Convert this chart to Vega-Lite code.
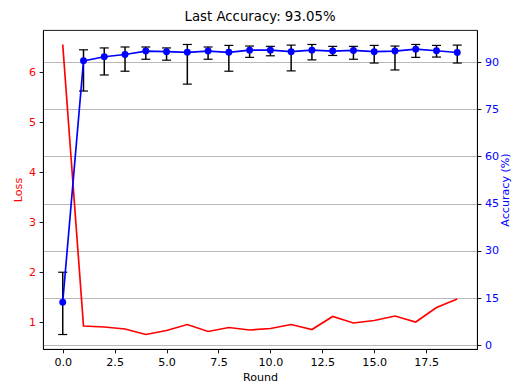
{
  "$schema": "https://vega.github.io/schema/vega-lite/v6.json",
  "width": 434,
  "height": 319,
  "autosize": {"type": "none"},
  "padding": {"left": 43, "top": 30, "right": 36, "bottom": 36},
  "background": "white",
  "title": {"text": "Last Accuracy: 93.05%", "fontSize": 13.3, "fontWeight": "normal", "font": "DejaVu Sans", "color": "black", "offset": 7},
  "config": {
    "font": "DejaVu Sans",
    "view": {"stroke": "black", "strokeWidth": 0.9},
    "axis": {
      "labelFont": "DejaVu Sans", "labelFontSize": 11.1, "titleFont": "DejaVu Sans", "titleFontSize": 11.1,
      "titleFontWeight": "normal", "domainColor": "black", "domainWidth": 0.9, "tickColor": "black", "tickWidth": 0.9, "tickSize": 3.9,
      "labelPadding": 3.5, "grid": false
    }
  },
  "data": {"values": [
    {"round": 0, "loss": 6.55, "acc": 13.7, "lo": 3.4, "hi": 23.2},
    {"round": 1, "loss": 0.92, "acc": 90.4, "lo": 80.8, "hi": 93.9},
    {"round": 2, "loss": 0.90, "acc": 91.7, "lo": 85.9, "hi": 94.5},
    {"round": 3, "loss": 0.86, "acc": 92.4, "lo": 87.1, "hi": 94.8},
    {"round": 4, "loss": 0.75, "acc": 93.5, "lo": 90.9, "hi": 94.8},
    {"round": 5, "loss": 0.83, "acc": 93.3, "lo": 90.6, "hi": 94.5},
    {"round": 6, "loss": 0.95, "acc": 93.1, "lo": 83.0, "hi": 95.6},
    {"round": 7, "loss": 0.81, "acc": 93.5, "lo": 90.9, "hi": 94.8},
    {"round": 8, "loss": 0.89, "acc": 93.1, "lo": 87.1, "hi": 95.3},
    {"round": 9, "loss": 0.84, "acc": 93.8, "lo": 91.5, "hi": 95.1},
    {"round": 10, "loss": 0.87, "acc": 93.8, "lo": 92.0, "hi": 95.0},
    {"round": 11, "loss": 0.95, "acc": 93.3, "lo": 87.2, "hi": 95.4},
    {"round": 12, "loss": 0.85, "acc": 93.8, "lo": 90.7, "hi": 95.6},
    {"round": 13, "loss": 1.11, "acc": 93.5, "lo": 92.1, "hi": 95.0},
    {"round": 14, "loss": 0.98, "acc": 93.7, "lo": 90.9, "hi": 95.0},
    {"round": 15, "loss": 1.03, "acc": 93.3, "lo": 89.7, "hi": 95.3},
    {"round": 16, "loss": 1.12, "acc": 93.5, "lo": 87.5, "hi": 95.1},
    {"round": 17, "loss": 1.00, "acc": 94.1, "lo": 91.5, "hi": 95.6},
    {"round": 18, "loss": 1.29, "acc": 93.6, "lo": 91.6, "hi": 95.3},
    {"round": 19, "loss": 1.46, "acc": 93.05, "lo": 89.7, "hi": 95.4}
  ]},
  "encoding": {
    "x": {"field": "round", "type": "quantitative",
      "scale": {"domain": [-0.95, 19.95], "nice": false, "zero": false},
      "axis": {"values": [0, 2.5, 5, 7.5, 10, 12.5, 15, 17.5], "format": ".1f", "title": "Round", "titlePadding": 4, "labelColor": "black", "titleColor": "black"}}
  },
  "layer": [
    {
      "mark": {"type": "line", "color": "red", "strokeWidth": 1.67},
      "encoding": {
        "y": {"field": "loss", "type": "quantitative",
          "scale": {"domain": [0.46, 6.84], "nice": false, "zero": false},
          "axis": {"orient": "left", "values": [1, 2, 3, 4, 5, 6], "title": "Loss", "titleColor": "red", "labelColor": "red", "titlePadding": 5}}
      }
    },
    {
      "encoding": {
        "y": {"field": "acc", "type": "quantitative",
          "scale": {"domain": [-1.2, 100.2], "nice": false, "zero": false},
          "axis": {"orient": "right", "values": [0, 15, 30, 45, 60, 75, 90], "title": "Accuracy (%)", "titleAngle": 270, "titleBaseline": "top", "titleColor": "blue", "labelColor": "blue", "grid": true, "gridColor": "#b0b0b0", "gridWidth": 0.9, "titlePadding": 1}}
      },
      "layer": [
        {
          "mark": {"type": "rule", "color": "black", "strokeWidth": 1.5},
          "encoding": {
            "y": {"field": "lo", "type": "quantitative"},
            "y2": {"field": "hi"}
          }
        },
        {
          "mark": {"type": "tick", "orient": "horizontal", "color": "black", "size": 9, "thickness": 1.2, "opacity": 1},
          "encoding": {"y": {"field": "lo", "type": "quantitative"}}
        },
        {
          "mark": {"type": "tick", "orient": "horizontal", "color": "black", "size": 9, "thickness": 1.2, "opacity": 1},
          "encoding": {"y": {"field": "hi", "type": "quantitative"}}
        },
        {
          "mark": {"type": "line", "color": "blue", "strokeWidth": 1.67}
        },
        {
          "mark": {"type": "point", "shape": "circle", "filled": true, "color": "blue", "size": 48, "opacity": 1}
        }
      ]
    }
  ],
  "resolve": {"scale": {"y": "independent"}}
}
